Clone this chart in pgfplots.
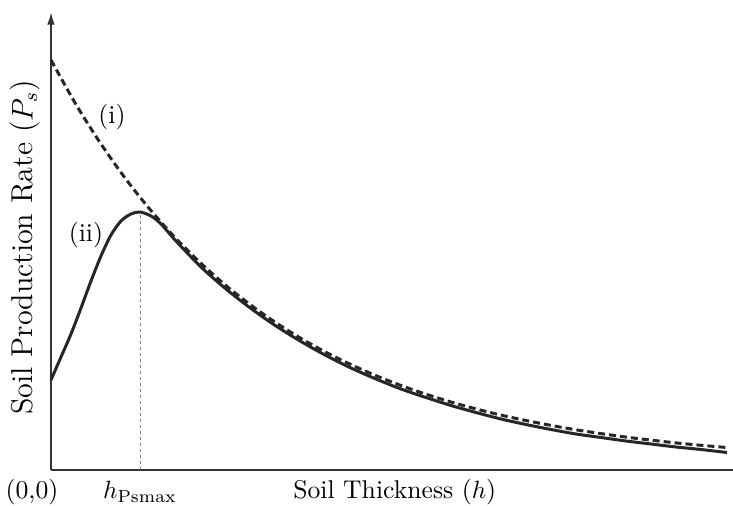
\documentclass[border=0pt]{standalone}
\usepackage{pgfplots}
\pgfplotsset{compat=1.18}
\usetikzlibrary{arrows.meta}
\begin{document}
\begin{tikzpicture}
\useasboundingbox (-20.4bp,-14.4bp) rectangle (272.8bp,188bp);
\fontsize{10.3}{12}\selectfont
\begin{axis}[
  x=0.4bp, y=0.4bp,
  scale only axis,
  anchor=origin, at={(0,0)},
  xmin=0, xmax=682, ymin=0, ymax=458,
  axis lines=left,
  x axis line style={-, line width=0.7pt, draw=black!80},
  y axis line style={-{Latex[length=5bp,width=3bp]}, line width=0.7pt, draw=black!80},
  xtick=\empty, ytick=\empty,
  clip=false,
  xlabel={Soil Thickness ($h$)},
  xlabel style={at={(axis description cs:0.504,-0.048)}, anchor=center},
  ylabel={Soil Production Rate ($P_s$)},
  ylabel style={at={(axis description cs:-0.038,0.486)}, anchor=center, font=\fontsize{12.1}{14}\selectfont},
]
% vertical guide at h_Psmax
\addplot[gray, line width=0.4pt, dash pattern=on 1.2bp off 1.2bp] coordinates {(89,0) (89,258)};
% (i) dashed curve
\addplot[black!85, line width=1.2pt, dash pattern=on 2.8bp off 1.6bp, smooth, tension=0.5] coordinates {
(0,410) (25,365.5) (50,326) (75,290.7) (100,259.4) (125,231.4) (150,206.6) (175,184.4) (200,164.8) (225,147.2) (250,131.6) (275,117.7) (300,105.4) (325,94.3) (350,84.5) (375,75.8) (400,68) (425,61.1) (450,54.9) (475,49.5) (500,44.6) (525,40.2) (550,36.4) (575,32.9) (600,29.9) (625,27.1) (650,24.7) (676,22.5)
};
% (ii) solid curve
\addplot[black!85, line width=1.2pt, smooth, tension=0.5] coordinates {
(0,90) (10,113) (20,136) (30,162) (40,189) (50,214) (60,235) (70,249) (80,256) (89,258) (100,254) (110,246) (125,229) (150,203) (175,181) (200,161.5) (225,144) (250,128.5) (275,114.5) (300,102) (325,91) (350,81) (375,72.5) (400,64.5) (425,57.5) (450,51) (475,45.5) (500,40.5) (525,36) (550,32.5) (575,29) (600,26) (625,23) (650,20.5) (676,17.5)
};
\node at (axis cs:61,353) {(i)};
\node at (axis cs:35,235) {(ii)};
\node at (axis cs:-19,-22) {(0,0)};
\node at (axis cs:89,-22) {$h_{\mathrm{Psmax}}$};
\end{axis}
\end{tikzpicture}
\end{document}
